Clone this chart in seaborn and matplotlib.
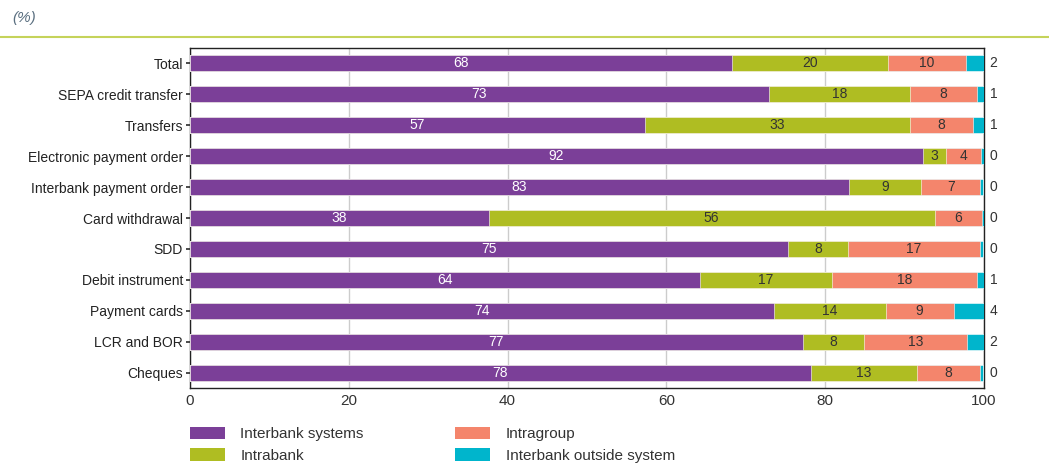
import numpy as np
import pandas as pd
import matplotlib
matplotlib.use("Agg")
import matplotlib.pyplot as plt
from matplotlib.patches import Patch
from matplotlib.lines import Line2D
import seaborn as sns

categories = ["Total", "SEPA credit transfer", "Transfers", "Electronic payment order",
              "Interbank payment order", "Card withdrawal", "SDD", "Debit instrument",
              "Payment cards", "LCR and BOR", "Cheques"]
interbank_systems = [68.3, 72.9, 57.3, 92.3, 83.0, 37.6, 75.3, 64.2, 73.6, 77.2, 78.2]
intrabank = [19.6, 17.8, 33.4, 2.9, 9.1, 56.2, 7.6, 16.6, 14.0, 7.7, 13.4]
intragroup = [9.8, 8.4, 7.9, 4.4, 7.4, 6.0, 16.6, 18.3, 8.6, 12.9, 7.9]
interbank_outside = [2.3, 0.9, 1.4, 0.4, 0.4, 0.2, 0.4, 0.9, 3.8, 2.2, 0.4]
series_names = ["Interbank systems", "Intrabank", "Intragroup", "Interbank outside system"]
x_ticks = [0, 20, 40, 60, 80, 100]

colors = ["#7B3F98", "#AFBD22", "#F4856C", "#00B5CC"]
text_colors = ["white", "#333333", "#333333", "#333333"]

sns.set_theme(style="white")
plt.rcParams["font.family"] = ["Liberation Sans", "DejaVu Sans"]

fig = plt.figure(figsize=(10.49, 4.68), dpi=100)
ax = fig.add_axes([190/1049, 1 - 388/468, (984-190)/1049, (388-48)/468])

series = [interbank_systems, intrabank, intragroup, interbank_outside]
cums = np.cumsum(np.array(series), axis=0)
df = pd.DataFrame({"category": categories})
for i in range(4):
    df[f"cum{i}"] = cums[i]

for i in reversed(range(4)):
    sns.barplot(data=df, x=f"cum{i}", y="category", orient="h", color=colors[i],
                width=0.52, saturation=1, ax=ax, edgecolor="white", linewidth=0.4,
                zorder=3)

# labels
for j in range(len(categories)):
    for i in range(3):
        v = series[i][j]
        center = cums[i][j] - v / 2
        ax.text(center, j, f"{round(v)}", ha="center", va="center",
                fontsize=10, color=text_colors[i], zorder=5)
    ax.text(100.7, j, f"{round(interbank_outside[j])}", ha="left", va="center",
            fontsize=10, color="#333333", clip_on=False)

ax.set_xlim(0, 100)
ax.set_ylim(len(categories) - 0.5, -0.5)
ax.set_xticks(x_ticks)
ax.set_xticklabels([str(t) for t in x_ticks], fontsize=11, color="#333333")
ax.tick_params(axis="y", labelsize=10, labelcolor="#222222", length=3, color="#333333",
               left=True, pad=2)
ax.tick_params(axis="x", length=0, pad=4)
ax.set_xlabel("")
ax.set_ylabel("")
ax.xaxis.grid(True, color="#cccccc", linewidth=1, zorder=0)
ax.set_axisbelow(True)
for s in ax.spines.values():
    s.set_visible(True)
    s.set_color("#222222")
    s.set_linewidth(1.0)

# header
fig.text(12/1049, 1 - 18/468, "(%)", fontsize=11, style="italic", color="#5a6f80",
         va="center", ha="left")
fig.add_artist(Line2D([0, 1], [1 - 37/468, 1 - 37/468], color="#C5D35A", linewidth=1.5,
                      transform=fig.transFigure))

handles = [Patch(facecolor=colors[i], edgecolor="none") for i in range(4)]
leg = fig.legend(handles, series_names, loc="upper left",
                 bbox_to_anchor=(176/1049, 1 - 413/468), ncol=2, frameon=False,
                 fontsize=11, handlelength=2.3, handleheight=0.9, columnspacing=6.0,
                 labelspacing=0.45, handletextpad=1.0)
for t in leg.get_texts():
    t.set_color("#333333")

fig.savefig("out.png", dpi=100)
